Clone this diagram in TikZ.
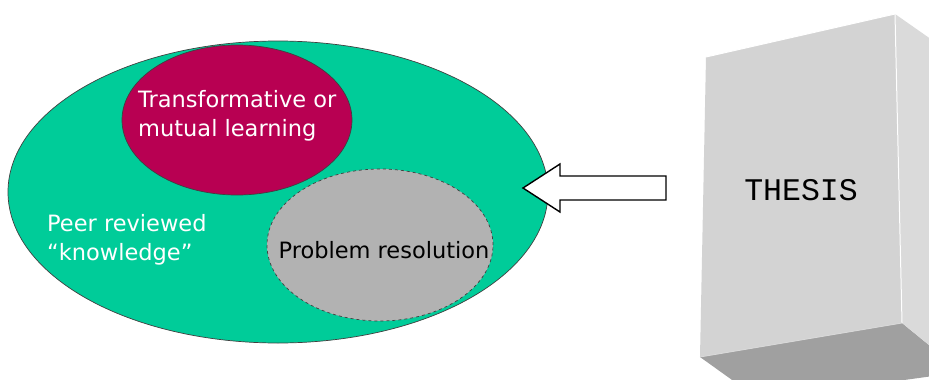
\documentclass[tikz,border=0pt]{standalone}
\usepackage{fontspec}
\setmainfont{DejaVu Sans}
\newfontfamily\thesisfont{Liberation Mono}
\usepackage{xcolor}
\usepackage{tikz}
\usetikzlibrary{positioning, shapes.geometric}

\definecolor{peergreen}{HTML}{00CC99}
\definecolor{learnred}{HTML}{B80052}
\definecolor{resgrey}{HTML}{B2B2B2}
\definecolor{boxfront}{HTML}{D3D3D3}
\definecolor{boxside}{HTML}{DADADA}
\definecolor{boxbottom}{HTML}{A0A0A0}

\tikzset{
  blob/.style={ellipse, draw=black!75, line width=0.7pt, inner sep=0pt},
  blobtext/.style={font=\fontsize{22.5}{29}\selectfont, align=left}
}

\begin{document}
\begin{tikzpicture}[x=1pt, y=-1pt]
      \useasboundingbox (0,0) rectangle (929,380);

      % Outer knowledge ellipse
      \node[blob, fill=peergreen, minimum width=540, minimum height=302] (peer) at (278,192) {};

      % Inner ellipses
      \node[blob, fill=learnred, minimum width=230, minimum height=150] (learn) at (237,120) {};
      \node[blob, fill=resgrey, dashed, minimum width=226, minimum height=152] (resol) at (380,245) {};

      % Labels inside the ellipses
      \node[blobtext, white, anchor=west, inner sep=0pt] (learntxt) at (138,116) {Transformative or\\mutual learning};
      \node[blobtext, black] (restxt) at (384,250) {Problem resolution};
      \node[blobtext, white, anchor=west, inner sep=0pt] (peertxt) at (47,240) {Peer reviewed\\“knowledge”};

      % Block arrow from the thesis into the knowledge
      \coordinate (tip) at (523,188);
      \draw[fill=white, line width=1.4pt]
        (tip) -- (560,164) -- (560,176) -- (666,176) -- (666,200)
        -- (560,200) -- (560,212) -- cycle;

      % Thesis box, drawn as three faces
      \coordinate (tl) at (706,57);
      \coordinate (tr) at (895,14);
      \coordinate (br) at (902,323);
      \coordinate (bl) at (700,357);
      \fill[boxbottom] (bl) -- (br) -- (962,372) -- (760,400) -- cycle;
      \fill[boxside] (tr) -- (955,56) -- (962,372) -- (br) -- cycle;
      \fill[boxfront] (tl) -- (tr) -- (br) -- (bl) -- cycle;
      \draw[white, line width=1pt] (tl) -- (tr) -- (br);
      \draw[white!85!black, line width=0.8pt] (bl) -- (br);

      \node[font=\thesisfont\fontsize{31.5}{33}\selectfont] (thesis) at (801,190) {THESIS};

    \end{tikzpicture}
\end{document}
